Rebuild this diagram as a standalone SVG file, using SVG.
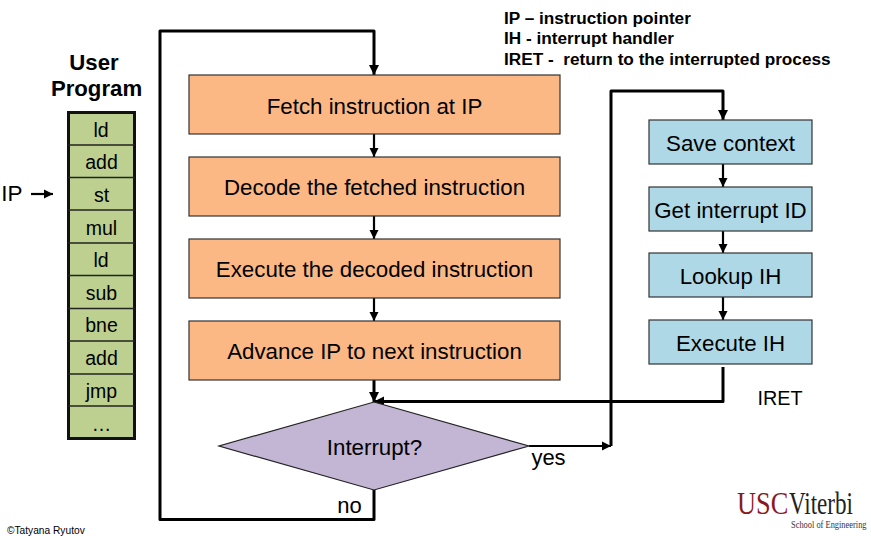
<svg xmlns="http://www.w3.org/2000/svg" width="871" height="536" viewBox="0 0 871 536">
<style>
text{font-family:"Liberation Sans",Arial,sans-serif;fill:#000;text-anchor:middle}
.o{fill:#fbb885;stroke:#333;stroke-width:1.2}
.b{fill:#aed8e6;stroke:#333;stroke-width:1.2}
.t{font-size:22.3px}
.s{font-size:22px}
.k{font-size:19.5px}
.l{font-size:17.2px;font-weight:bold;text-anchor:start}
.c{fill:none;stroke:#000;stroke-width:3;stroke-linejoin:round}
.c2{fill:none;stroke:#000;stroke-width:2.2}
.r{stroke:#222;stroke-width:1.5}
.g{font-family:"Liberation Serif",serif;text-anchor:start}
</style>
<defs>
<marker id="a" viewBox="0 0 10 10" refX="10" refY="5" markerWidth="4.2" markerHeight="4.2" orient="auto"><path d="M0 0L10 5L0 10Z" fill="#000"/></marker>
<marker id="a2" viewBox="0 0 10 10" refX="10" refY="5" markerWidth="3.4" markerHeight="3.4" orient="auto"><path d="M0 0L10 5L0 10Z" fill="#000"/></marker>
</defs>
<rect width="871" height="536" fill="#fff"/>
<g id="connectors">
<path class="c" marker-end="url(#a2)" d="M374 490V519.500H160V31H374V75"/>
<path class="c2" marker-end="url(#a)" d="M374 134V157"/>
<path class="c2" marker-end="url(#a)" d="M374 216V239"/>
<path class="c2" marker-end="url(#a)" d="M374 298V321"/>
<path class="c" marker-end="url(#a2)" d="M374 380V402"/>
<path class="c" marker-end="url(#a2)" d="M723 367V401.500H374"/>
<path class="c2" marker-end="url(#a)" d="M529 446H611"/>
<path class="c" marker-end="url(#a2)" d="M611 446V91H723V120"/>
<path class="c2" marker-end="url(#a)" d="M723 164V187"/>
<path class="c2" marker-end="url(#a)" d="M723 231V253"/>
<path class="c2" marker-end="url(#a)" d="M723 297V320"/>
<path class="c2" marker-end="url(#a)" d="M31 194H53"/>
</g>
<g id="user-program">
<text x="94" y="70" font-size="22.200" font-weight="bold">User</text>
<text x="96.500" y="96" font-size="22.200" font-weight="bold">Program</text>
<rect x="68.500" y="112.500" width="66" height="326" fill="#bdd08f" stroke="#111" stroke-width="3"/>
<path class="r" d="M68 145H135M68 177.500H135M68 210H135M68 243H135M68 275.500H135M68 308.500H135M68 341H135M68 374H135M68 406H135"/>
<text class="k" x="101" y="136.500">ld</text>
<text class="k" x="101.500" y="169">add</text>
<text class="k" x="101.500" y="201.500">st</text>
<text class="k" x="101.500" y="234.500">mul</text>
<text class="k" x="101" y="267">ld</text>
<text class="k" x="101.500" y="299.500">sub</text>
<text class="k" x="101.500" y="332">bne</text>
<text class="k" x="101.500" y="365">add</text>
<text class="k" x="101.500" y="397.500">jmp</text>
<text class="k" x="101.500" y="430.500">…</text>
</g>
<g id="ip-label"><text x="12" y="200.500" font-size="22.500">IP</text></g>
<g id="fetch"><rect class="o" x="189" y="75" width="371" height="59"/><text class="t" x="374.500" y="114">Fetch instruction at IP</text></g>
<g id="decode"><rect class="o" x="189" y="157" width="371" height="59"/><text class="t" x="374.500" y="195">Decode the fetched instruction</text></g>
<g id="execute"><rect class="o" x="189" y="239" width="371" height="59"/><text class="t" x="374.500" y="277">Execute the decoded instruction</text></g>
<g id="advance"><rect class="o" x="189" y="321" width="371" height="59"/><text class="t" x="374.500" y="359">Advance IP to next instruction</text></g>
<g id="interrupt"><polygon points="374,402 529,446 374,490 219,446" fill="#c3b5d4" stroke="#222" stroke-width="1.200"/><text class="t" x="374.500" y="455">Interrupt?</text></g>
<g id="save"><rect class="b" x="649" y="120" width="163" height="44"/><text class="t" x="730.500" y="151">Save context</text></g>
<g id="getid"><rect class="b" x="649" y="187" width="163" height="44"/><text class="t" x="730.500" y="218">Get interrupt ID</text></g>
<g id="lookup"><rect class="b" x="649" y="253" width="163" height="44"/><text class="t" x="730.500" y="284">Lookup IH</text></g>
<g id="exec-ih"><rect class="b" x="649" y="320" width="163" height="44"/><text class="t" x="730.500" y="351">Execute IH</text></g>
<g id="labels">
<text class="s" x="548.500" y="465">yes</text>
<text class="s" x="349.500" y="513">no</text>
<text x="780" y="405" font-size="19.800">IRET</text>
<text class="l" x="504" y="24">IP – instruction pointer</text>
<text class="l" x="504" y="44">IH - interrupt handler</text>
<text class="l" x="504" y="65" xml:space="preserve">IRET -  return to the interrupted process</text>
<text x="7" y="534" font-size="10.200" style="text-anchor:start">©Tatyana Ryutov</text>
</g>
<g id="logo">
<text class="g" transform="translate(737 514) scale(.85 1)" font-size="31" style="fill:#8b1a1f">USC</text>
<text class="g" transform="translate(789 514) scale(.745 1)" font-size="31" style="fill:#222">Viterbi</text>
<text class="g" transform="translate(791 527.500) scale(.8 1)" font-size="10.500" style="fill:#333">School of Engineering</text>
</g>
</svg>
